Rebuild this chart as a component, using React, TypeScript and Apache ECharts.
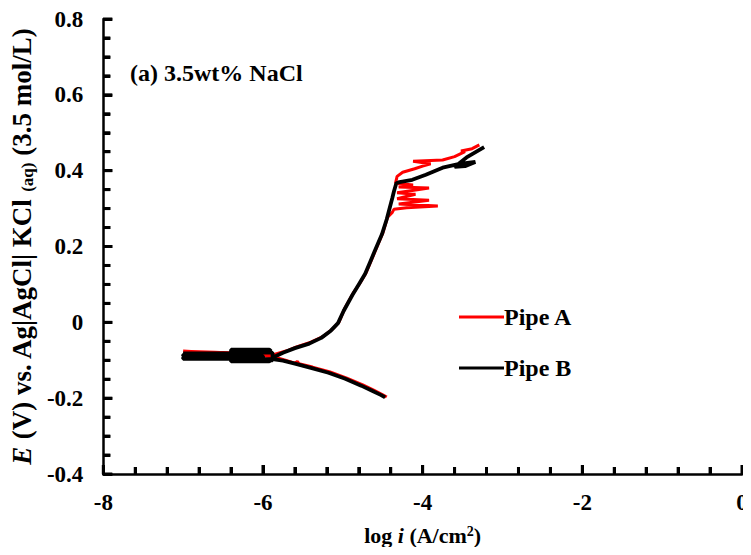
import React, { useEffect, useRef } from "react";
import * as echarts from "echarts";

// Potentiodynamic polarization curves: [log i (A/cm2), E (V)]
const pipeA: [number, number][] = [
  [-4.45, -0.197], [-4.5, -0.191], [-4.62, -0.178], [-4.75, -0.165], [-4.95, -0.147],
  [-5.16, -0.131], [-5.38, -0.118], [-5.55, -0.109], [-5.57, -0.103], [-5.6, -0.108],
  [-5.72, -0.1], [-5.85, -0.092], [-6.1, -0.085], [-6.4, -0.08], [-6.7, -0.078],
  [-7.0, -0.076], [-6.6, -0.079], [-6.2, -0.083], [-5.95, -0.086], [-5.85, -0.084],
  [-5.7, -0.075], [-5.58, -0.065], [-5.4, -0.052], [-5.25, -0.038], [-5.13, -0.018],
  [-5.05, 0.0], [-4.98, 0.035], [-4.87, 0.077], [-4.78, 0.105], [-4.71, 0.13],
  [-4.65, 0.16], [-4.59, 0.19], [-4.5, 0.235], [-4.44, 0.277], [-4.38, 0.29],
  [-4.36, 0.298], [-4.2, 0.302], [-3.81, 0.307], [-4.3, 0.312], [-3.92, 0.322],
  [-4.32, 0.326], [-4.09, 0.338], [-4.32, 0.342], [-3.92, 0.354], [-4.3, 0.357],
  [-4.12, 0.362], [-4.34, 0.367], [-4.32, 0.385], [-4.25, 0.396], [-4.1, 0.405],
  [-4.0, 0.412], [-3.9, 0.418], [-4.12, 0.425], [-3.75, 0.428], [-3.6, 0.437],
  [-3.47, 0.45], [-3.52, 0.452], [-3.38, 0.458], [-3.29, 0.468],
];

const pipeB: [number, number][] = [
  [-4.47, -0.198], [-4.52, -0.192], [-4.64, -0.18], [-4.77, -0.167], [-4.97, -0.149],
  [-5.18, -0.133], [-5.4, -0.12], [-5.6, -0.109], [-5.75, -0.101], [-5.88, -0.097],
  [-6.1, -0.096], [-6.4, -0.096], [-7.0, -0.096], [-7.0, -0.0925], [-6.0, -0.0925],
  [-6.0, -0.089], [-7.0, -0.089], [-7.0, -0.0855], [-6.2, -0.0855], [-6.2, -0.082],
  [-7.0, -0.082], [-6.9, -0.084], [-6.4, -0.086], [-6.4, -0.072], [-5.92, -0.072],
  [-5.9, -0.076], [-6.4, -0.076], [-6.4, -0.08], [-5.88, -0.08], [-5.88, -0.1],
  [-6.4, -0.1], [-6.4, -0.103], [-5.92, -0.103], [-5.85, -0.09], [-5.75, -0.08],
  [-5.6, -0.068], [-5.42, -0.056], [-5.27, -0.041], [-5.15, -0.022], [-5.06, -0.002],
  [-4.99, 0.03], [-4.88, 0.072], [-4.8, 0.1], [-4.72, 0.128], [-4.66, 0.158],
  [-4.6, 0.188], [-4.51, 0.232], [-4.45, 0.272], [-4.38, 0.328], [-4.36, 0.345],
  [-4.33, 0.367], [-4.29, 0.37], [-4.13, 0.376], [-3.96, 0.389], [-3.75, 0.408],
  [-3.54, 0.418], [-3.34, 0.423], [-3.47, 0.412], [-3.6, 0.41], [-3.45, 0.435],
  [-3.23, 0.462],
];

const seriesNames = ["Pipe A", "Pipe B"];
const seriesColors = ["#ff0000", "#000000"];
const panelLabel = "(a) 3.5wt% NaCl";

// Axis ranges and tick spacing
const xRange = [-8, 0];
const xStep = 2;
const xMinorDivisions = 5;
const yRange = [-0.4, 0.8];
const yStep = 0.2;
const yMinorDivisions = 4;

const FONT = "'Liberation Serif', 'Times New Roman', serif";

// Major or minor tick values of an axis
function tickValues(range: number[], step: number, divisions: number, major: boolean): number[] {
  const out: number[] = [];
  const count = Math.round((range[1] - range[0]) / step);
  for (let i = 0; i <= count; i++) {
    const base = range[0] + i * step;
    if (major) out.push(+base.toFixed(6));
    else if (i < count) {
      for (let j = 1; j < divisions; j++) out.push(+(base + (j * step) / divisions).toFixed(6));
    }
  }
  return out;
}

export default function App() {
  const ref = useRef<HTMLDivElement>(null);

  useEffect(() => {
    if (!ref.current) return;
    const chart = echarts.init(ref.current, undefined, { renderer: "svg" });
    const labelStyle = {
      color: "#000",
      fontFamily: FONT,
      fontWeight: "bold" as const,
      fontSize: 23,
    };

    // inward ticks on the bottom (vertical) and left (horizontal) axes
    const tickSeries = (values: number[], onX: boolean, len: number) => ({
      type: "custom",
      clip: false,
      z: 5,
      data: values.map((v) => (onX ? [v, yRange[0]] : [xRange[0], v])),
      renderItem: (_p: any, api: any) => {
        const pt = api.coord([api.value(0), api.value(1)]);
        return {
          type: "line",
          shape: onX
            ? { x1: pt[0], y1: pt[1], x2: pt[0], y2: pt[1] - len }
            : { x1: pt[0], y1: pt[1], x2: pt[0] + len, y2: pt[1] },
          style: { stroke: "#000", lineWidth: 3 },
        };
      },
    });

    chart.setOption({
      animation: false,
      title: {
        text: panelLabel,
        left: 130,
        top: 61,
        padding: 0,
        textStyle: { ...labelStyle, fontSize: 24 },
      },
      grid: { left: 98, right: 9, top: 19, bottom: 81 },
      xAxis: {
        type: "value",
        min: xRange[0],
        max: xRange[1],
        interval: xStep,
        axisLine: { show: true, onZero: false, lineStyle: { color: "#000", width: 2.5 } },
        axisTick: { show: true, inside: true, length: 9, lineStyle: { color: "#000", width: 3 } },
        minorTick: { show: true, splitNumber: xMinorDivisions, length: 7, lineStyle: { color: "#000", width: 3 } },
        splitLine: { show: false },
        axisLabel: { ...labelStyle, margin: 17 },
        name: "log {it|i} (A/cm{sup|2})",
        nameLocation: "middle",
        nameGap: 50,
        nameTextStyle: {
          ...labelStyle,
          fontSize: 22,
          rich: {
            it: { ...labelStyle, fontSize: 22, fontStyle: "italic" },
            sup: { ...labelStyle, fontSize: 14, verticalAlign: "top", lineHeight: 20 },
          },
        },
      },
      yAxis: {
        type: "value",
        min: yRange[0],
        max: yRange[1],
        interval: yStep,
        axisLine: { show: true, onZero: false, lineStyle: { color: "#000", width: 2.5 } },
        axisTick: { show: true, inside: true, length: 9, lineStyle: { color: "#000", width: 3 } },
        minorTick: { show: true, splitNumber: yMinorDivisions, length: 7, lineStyle: { color: "#000", width: 3 } },
        splitLine: { show: false },
        axisLabel: { ...labelStyle, margin: 20 },
        name: "{it|E} (V) vs. Ag|AgCl| KCl {sub|(aq)} (3.5 mol/L)",
        nameLocation: "middle",
        nameRotate: 90,
        nameGap: 56,
        nameTextStyle: {
          ...labelStyle,
          fontSize: 27,
          lineHeight: 28,
          rich: {
            it: { ...labelStyle, fontSize: 27, fontStyle: "italic", lineHeight: 28 },
            sub: { ...labelStyle, fontSize: 17, verticalAlign: "bottom", lineHeight: 28 },
          },
        },
      },
      legend: {
        orient: "vertical",
        left: 454,
        top: 300,
        itemWidth: 45,
        itemHeight: 10,
        itemGap: 27,
        icon: "path://M0,0 L45,0 L45,3 L0,3 Z",
        textStyle: { ...labelStyle, fontSize: 24, padding: [0, 0, 0, -5] },
        data: seriesNames,
      },
      series: [
        {
          name: seriesNames[0],
          type: "line",
          data: pipeA,
          showSymbol: false,
          symbol: "none",
          color: seriesColors[0],
          lineStyle: { color: seriesColors[0], width: 3 },
        },
        {
          name: seriesNames[1],
          type: "line",
          data: pipeB,
          showSymbol: false,
          symbol: "none",
          color: seriesColors[1],
          lineStyle: { color: seriesColors[1], width: 3.8 },
        },
        tickSeries(tickValues(xRange, xStep, xMinorDivisions, true), true, 9),
        tickSeries(tickValues(xRange, xStep, xMinorDivisions, false), true, 7),
        tickSeries(tickValues(yRange, yStep, yMinorDivisions, true), false, 9),
        tickSeries(tickValues(yRange, yStep, yMinorDivisions, false), false, 7),
      ],
    });
    return () => chart.dispose();
  }, []);

  return <div ref={ref} style={{ width: 751, height: 555, margin: -8 }} />;
}
